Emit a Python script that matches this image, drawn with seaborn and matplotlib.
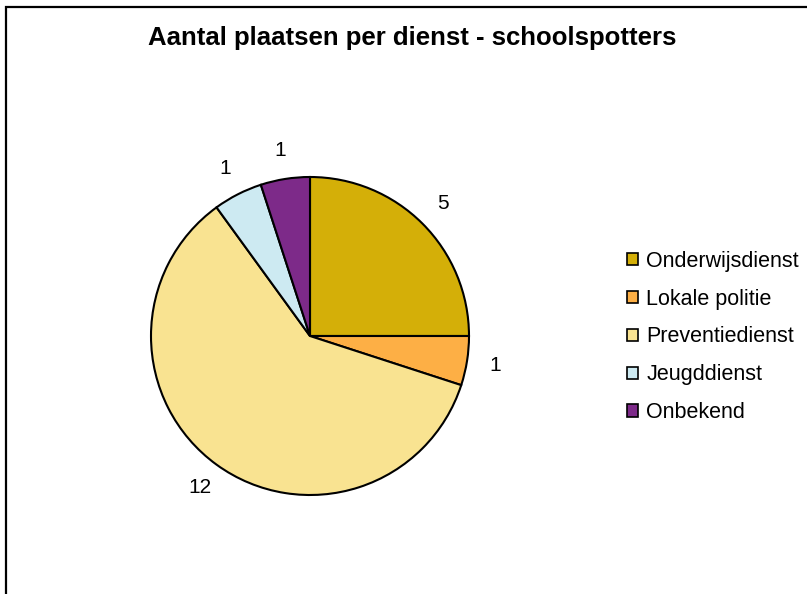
import matplotlib
matplotlib.use("Agg")
import matplotlib.pyplot as plt
from matplotlib.patches import Patch, Rectangle
import seaborn as sns

# data
diensten = ["Onderwijsdienst", "Lokale politie", "Preventiedienst", "Jeugddienst", "Onbekend"]
plaatsen = [5, 1, 12, 1, 1]
kleuren = ["#D4AF08", "#FDAF45", "#F9E391", "#CDEAF2", "#7D2A89"]
titel = "Aantal plaatsen per dienst - schoolspotters"

sns.set_theme(style="white")
plt.rcParams["font.family"] = ["Liberation Sans", "DejaVu Sans"]
plt.rcParams["text.color"] = "black"
palette = sns.color_palette(kleuren)

fig = plt.figure(figsize=(8.07, 5.94), dpi=100)
fig.patch.set_facecolor("white")

# pie axes: centre (310, 336) px, radius 159 px
r = 159
ax = fig.add_axes([(310 - r) / 807, 1 - (336 + r) / 594, 2 * r / 807, 2 * r / 594])
wedges, texts = ax.pie(plaatsen, labels=[str(v) for v in plaatsen], colors=palette,
                       startangle=90, counterclock=False, labeldistance=1.18,
                       wedgeprops=dict(edgecolor="black", linewidth=1.5),
                       textprops=dict(fontsize=15, color="black"))
for t in texts:
    t.set_ha("center")
    t.set_va("center")
ax.set_xlim(-1, 1)
ax.set_ylim(-1, 1)
ax.set_aspect("auto")
ax.axis("off")

fig.text(412 / 807, 1 - 45 / 594, titel, ha="center", va="baseline", color="black",
         fontsize=18.5, fontweight="bold")

handles = [Patch(facecolor=c, edgecolor="black", linewidth=1.2) for c in palette]
leg = fig.legend(handles, diensten, loc="center left", bbox_to_anchor=(627 / 807, 1 - 337 / 594),
                 frameon=False, fontsize=15.5, handlelength=0.5, handleheight=0.5,
                 handletextpad=0.4, labelspacing=0.78, borderpad=0, borderaxespad=0)
for t in leg.get_texts():
    t.set_color("black")

# chart border (only left and top edges visible in the reference)
fig.patches.append(Rectangle((5.5 / 807, -0.1), 1.2, 1.1 - 7.5 / 594, transform=fig.transFigure,
                             fill=False, edgecolor="black", linewidth=1.6, clip_on=False))

plt.savefig("out.png", dpi=100)
